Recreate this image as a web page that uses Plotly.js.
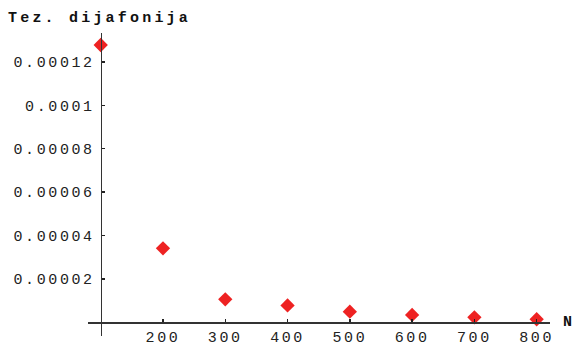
<!DOCTYPE html>
<html><head><meta charset="utf-8">
<script src="https://cdn.plot.ly/plotly-3.0.1.min.js"></script>
<style>html,body{margin:0;padding:0;background:#fff}</style>
</head><body>
<div id="chart" style="width:576px;height:351px"></div>
<script>
const nValues = [100, 200, 300, 400, 500, 600, 700, 800];
const crosstalk = [1.278e-4, 3.41e-5, 1.06e-5, 7.8e-6, 4.9e-6, 3.4e-6, 2.3e-6, 1.4e-6];
const xTickVals = [200, 300, 400, 500, 600, 700, 800];
const xTickText = ["200", "300", "400", "500", "600", "700", "800"];
const yTickVals = [0.00002, 0.00004, 0.00006, 0.00008, 0.0001, 0.00012];
const yTickText = ["0.00002", "0.00004", "0.00006", "0.00008", "0.0001", "0.00012"];
const titleText = "Tez. dijafonija";
const xAxisLabel = "N";

const sp = (s, ls) => '<span style="letter-spacing:' + ls + 'px">' + s + '</span>';
const xRange = [79.6, 821.4];
const yRange = [-6.31e-6, 1.3332e-4];
const mono = "Liberation Mono, Courier New, monospace";

const trace = {
  x: nValues, y: crosstalk, mode: 'markers', type: 'scatter',
  marker: {symbol: 'diamond', size: 11, color: '#ee2222'},
  cliponaxis: false, hoverinfo: 'none'
};
const layout = {
  width: 576, height: 351,
  margin: {l: 88, r: 26, t: 33, b: 15},
  paper_bgcolor: '#fff', plot_bgcolor: '#fff',
  showlegend: false,
  title: {text: sp(titleText, 3.2), x: 8/576, xanchor: 'left', xref: 'container',
          y: 1 - 17/351, yanchor: 'middle', yref: 'container',
          font: {family: mono, size: 15, color: '#111', weight: 'bold'}},
  xaxis: {range: xRange, showgrid: false, zeroline: false, showline: true,
          linecolor: '#333', linewidth: 1.6, anchor: 'free',
          position: (0 - yRange[0]) / (yRange[1] - yRange[0]),
          tickvals: xTickVals, ticktext: xTickText.map(t => sp(t, 2.6)),
          ticks: 'inside', ticklen: 3, tickwidth: 1.5, tickcolor: '#222',
          ticklabelstandoff: 0,
          tickfont: {family: mono, size: 15, color: '#222'}},
  yaxis: {range: yRange, showgrid: false, zeroline: false, showline: true,
          linecolor: '#333', linewidth: 1.6, anchor: 'free',
          position: (100 - xRange[0]) / (xRange[1] - xRange[0]),
          tickvals: yTickVals, ticktext: yTickText.map(t => sp(t, 2.6)),
          ticks: 'inside', ticklen: 3, tickwidth: 1.5, tickcolor: '#222',
          ticklabelstandoff: 3,
          tickfont: {family: mono, size: 15, color: '#222'}},
  annotations: [{text: xAxisLabel, xref: 'paper', yref: 'y', x: (567-88)/462, y: 0,
                 xanchor: 'center', yanchor: 'middle', showarrow: false,
                 font: {family: mono, size: 15, color: '#111', weight: 'bold'}}]
};
Plotly.newPlot('chart', [trace], layout, {displayModeBar: false, staticPlot: true});
</script>
</body></html>
